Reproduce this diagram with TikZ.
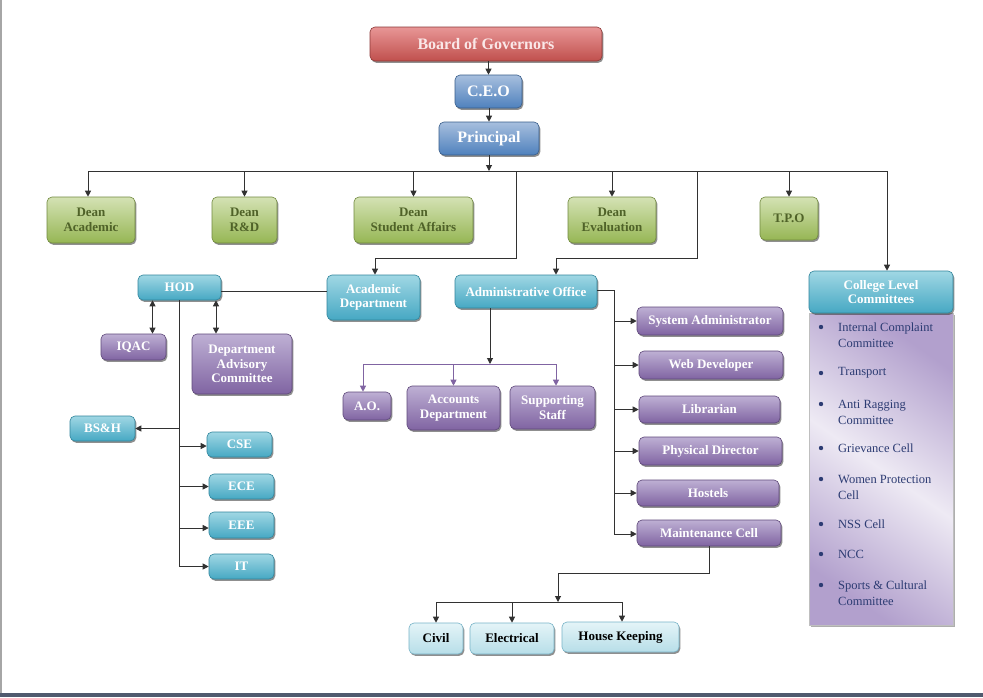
\documentclass[tikz,border=0pt]{standalone}
\usepackage{fontspec}
\setmainfont{Liberation Serif}
\usetikzlibrary{arrows.meta,shadows,calc}
\definecolor{redL}{RGB}{232,150,150}
\definecolor{redM}{RGB}{192,80,77}
\definecolor{redD}{RGB}{140,56,54}
\definecolor{bluL}{RGB}{167,191,222}
\definecolor{bluM}{RGB}{79,129,189}
\definecolor{bluD}{RGB}{56,93,138}
\definecolor{grnL}{RGB}{212,226,180}
\definecolor{grnM}{RGB}{150,182,84}
\definecolor{grnD}{RGB}{113,137,63}
\definecolor{grnT}{RGB}{79,98,40}
\definecolor{tealL}{RGB}{160,215,228}
\definecolor{tealM}{RGB}{70,168,195}
\definecolor{tealD}{RGB}{49,133,156}
\definecolor{purL}{RGB}{190,176,212}
\definecolor{purM}{RGB}{128,100,162}
\definecolor{purD}{RGB}{95,73,122}
\definecolor{cyL}{RGB}{228,244,248}
\definecolor{cyM}{RGB}{183,222,232}
\definecolor{cyD}{RGB}{120,180,200}
\definecolor{navy}{RGB}{45,60,115}
\definecolor{lineC}{RGB}{50,50,50}
\definecolor{bandC}{RGB}{80,90,110}
\begin{document}
\begin{tikzpicture}[x=1pt,y=-1pt,
  box/.style={draw, rounded corners=5pt, inner sep=1pt, align=center,
    font=\bfseries\fontsize{13}{14.5}\selectfont, line width=0.6pt,
    drop shadow={shadow xshift=1.3pt, shadow yshift=-1.8pt, opacity=.55, fill=black!80}},
  redbox/.style={box, draw=redD, top color=redL, bottom color=redM, text={rgb,255:red,250;green,232;blue,232}},
  bluebox/.style={box, draw=bluD, top color=bluL, bottom color=bluM, text=white},
  greenbox/.style={box, draw=grnD, top color=grnL, bottom color=grnM, text=grnT},
  tealbox/.style={box, draw=tealD, top color=tealL, bottom color=tealM, text=white},
  purbox/.style={box, draw=purD, top color=purL, bottom color=purM, text=white},
  cybox/.style={box, draw=cyD, top color=cyL, bottom color=cyM, text=black},
  conn/.style={draw=lineC, line width=1pt},
  pconn/.style={draw=purM, line width=1pt},
  arr/.style={-{Triangle[length=6pt,width=6pt]}},
  dbl/.style={{Triangle[length=6pt,width=6pt]}-{Triangle[length=6pt,width=6pt]}},
  item/.style={anchor=west, align=left, inner sep=0, text=navy, font=\fontsize{12.5}{16}\selectfont},
  bullet/.style={circle, fill=navy, inner sep=0, minimum size=4.4pt}
]
\useasboundingbox (0,0) rectangle (983,697);
\fill[white] (0,0) rectangle (983,697);
\fill[gray!70] (0,0) rectangle (1.5,697);
\fill[bandC] (0,693) rectangle (983,697);

% top chain
\node[redbox, minimum width=232, minimum height=34, font=\bfseries\fontsize{16}{18}\selectfont] (bog) at (486,44) {Board of Governors};
\node[bluebox, minimum width=67, minimum height=33, font=\bfseries\fontsize{16}{18}\selectfont] (ceo) at (488.5,91.5) {C.E.O};
\node[bluebox, minimum width=100, minimum height=33, font=\bfseries\fontsize{16}{18}\selectfont] (prin) at (489,138.5) {Principal};

% deans row
\node[greenbox, minimum width=88, minimum height=46] (deanA) at (91,220) {Dean\\Academic};
\node[greenbox, minimum width=65, minimum height=46] (deanR) at (244.5,220) {Dean\\R\&D};
\node[greenbox, minimum width=119, minimum height=46] (deanS) at (413.5,220) {Dean\\Student Affairs};
\node[greenbox, minimum width=88, minimum height=46] (deanE) at (612,220) {Dean\\Evaluation};
\node[greenbox, minimum width=58, minimum height=43] (tpo) at (789,218.5) {T.P.O};

% academic side
\node[tealbox, minimum width=93, minimum height=45] (acad) at (373.5,297.5) {Academic\\Department};
\node[tealbox, minimum width=83, minimum height=25] (hod) at (179.5,287.5) {HOD};
\node[purbox, minimum width=65, minimum height=26] (iqac) at (133.5,347) {IQAC};
\node[purbox, minimum width=100, minimum height=60] (dac) at (242,364) {Department\\Advisory\\Committee};
\node[tealbox, minimum width=65, minimum height=25] (bsh) at (102.5,428.5) {BS\&H};
\node[tealbox, minimum width=65, minimum height=25] (cse) at (239.5,444.5) {CSE};
\node[tealbox, minimum width=65, minimum height=25] (ece) at (241.5,486.5) {ECE};
\node[tealbox, minimum width=65, minimum height=26] (eee) at (241.5,525) {EEE};
\node[tealbox, minimum width=65, minimum height=25] (it) at (241.5,566.5) {IT};

% administrative side
\node[tealbox, minimum width=142, minimum height=33] (admin) at (526,291.5) {Administrative Office};
\node[purbox, minimum width=48, minimum height=28] (ao) at (367,406) {A.O.};
\node[purbox, minimum width=93, minimum height=44] (acc) at (453.5,408) {Accounts\\Department};
\node[purbox, minimum width=85, minimum height=43] (supp) at (552.5,407.5) {Supporting\\Staff};
\node[purbox, minimum width=146, minimum height=28] (sysad) at (710,321) {System Administrator};
\node[purbox, minimum width=144, minimum height=28] (web) at (711,365) {Web Developer};
\node[purbox, minimum width=141, minimum height=27] (lib) at (709.5,409.5) {Librarian};
\node[purbox, minimum width=143, minimum height=28] (phys) at (710.5,451) {Physical Director};
\node[purbox, minimum width=142, minimum height=26] (hostels) at (708,493) {Hostels};
\node[purbox, minimum width=144, minimum height=26] (maint) at (709,533) {Maintenance Cell};
\node[cybox, minimum width=54, minimum height=31] (civil) at (436,638.5) {Civil};
\node[cybox, minimum width=84, minimum height=31] (elec) at (512,638.5) {Electrical};
\node[cybox, minimum width=117, minimum height=30] (hk) at (620.5,637) {House Keeping};

% college level committees
\node[draw=gray!50, line width=0.5pt, minimum width=144, minimum height=312, inner sep=0,
  left color={rgb,255:red,178;green,160;blue,205}, right color={rgb,255:red,178;green,160;blue,205},
  middle color={rgb,255:red,238;green,234;blue,244}, shading angle=-35,
  drop shadow={shadow xshift=1.5pt, shadow yshift=-2pt, opacity=.45, fill=black!70}] (clcbody) at (881,469) {};
\node[tealbox, minimum width=144, minimum height=42] (clc) at (881,292) {College Level\\Committees};
\node[bullet] (b1) at (821,327) {};
\node[bullet] (b2) at (821,373) {};
\node[bullet] (b3) at (821,404) {};
\node[bullet] (b4) at (821,448) {};
\node[bullet] (b5) at (821,479) {};
\node[bullet] (b6) at (821,524) {};
\node[bullet] (b7) at (821,554) {};
\node[bullet] (b8) at (821,585) {};
\node[item] (i1) at (838,335) {Internal Complaint\\Committee};
\node[item] (i2) at (838,373) {Transport};
\node[item] (i3) at (838,412) {Anti Ragging\\Committee};
\node[item] (i4) at (838,448) {Grievance Cell};
\node[item] (i5) at (838,487) {Women Protection\\Cell};
\node[item] (i6) at (838,524) {NSS Cell};
\node[item] (i7) at (838,554) {NCC};
\node[item] (i8) at (838,593) {Sports \& Cultural\\Committee};

% connectors: top chain
\draw[conn,arr] (bog.south -| ceo.north) -- (ceo.north);
\draw[conn,arr] (ceo.south -| prin.north) -- (prin.north);
\coordinate (busL) at (88,171);
\coordinate (busR) at (887,171);
\coordinate (acJ) at (516,171);
\coordinate (adJ) at (697,171);
\draw[conn,arr] (prin.south) -- (prin.south |- busL);
\draw[conn] (busL) -- (busR);
\draw[conn,arr] (busL) -- (busL |- deanA.north);
\draw[conn,arr] (deanR.north |- busL) -- (deanR.north);
\draw[conn,arr] (deanS.north |- busL) -- (deanS.north);
\draw[conn,arr] (deanE.north |- busL) -- (deanE.north);
\draw[conn,arr] (tpo.north |- busL) -- (tpo.north);
\draw[conn,arr] (busR) -- (busR |- clc.north);
\draw[conn,arr] (acJ) -- ++(0,87) -| ([xshift=1.5]acad.north);
\draw[conn,arr] (adJ) -- ++(0,87) -| ([xshift=30]admin.north);

% academic branch
\draw[conn] ([yshift=-4]hod.east) -- ([yshift=-4]hod.east -| acad.west);
\draw[conn,dbl] ([xshift=-27]hod.south) -- ([xshift=-27]hod.south |- iqac.north);
\draw[conn,dbl] ([xshift=36.5]hod.south) -- ([xshift=36.5]hod.south |- dac.north);
\coordinate (hodEnd) at (179.5,567);
\draw[conn] (hod.south) -- (hodEnd);
\draw[conn,arr] (hod.south |- bsh.east) -- (bsh.east);
\draw[conn,arr] ([yshift=-1.5]hod.south |- cse.west) -- ([yshift=-1.5]cse.west);
\draw[conn,arr] (hod.south |- ece.west) -- (ece.west);
\draw[conn,arr] ([yshift=-3]hod.south |- eee.west) -- ([yshift=-3]eee.west);
\draw[conn,arr] (hod.south |- it.west) -- (it.west);

% administrative branch
\coordinate (admJ) at (490,364);
\draw[conn,arr] ([xshift=-36]admin.south) -- (admJ);
\draw[pconn] ([xshift=-4]ao.north |- admJ) -- ([xshift=3.5]supp.north |- admJ);
\draw[pconn,arr] ([xshift=-4]ao.north |- admJ) -- ([xshift=-4]ao.north);
\draw[pconn,arr] (acc.north |- admJ) -- (acc.north);
\draw[pconn,arr] ([xshift=3.5]supp.north |- admJ) -- ([xshift=3.5]supp.north);
\coordinate (rb) at (614,534);
\draw[conn] ([yshift=1.5]admin.east) -| (rb);
\draw[conn,arr] (rb |- sysad.west) -- (sysad.west);
\draw[conn,arr] (rb |- web.west) -- (web.west);
\draw[conn,arr] (rb |- lib.west) -- (lib.west);
\draw[conn,arr] (rb |- phys.west) -- (phys.west);
\draw[conn,arr] (rb |- hostels.west) -- (hostels.west);
\draw[conn,arr] (rb) -- (rb -| maint.west);
\coordinate (mJ) at (558,573);
\coordinate (bJ) at (558,602);
\draw[conn,arr] (maint.south) |- (mJ) -- (bJ);
\draw[conn] (civil.north |- bJ) -- ([xshift=1.5]hk.north |- bJ);
\draw[conn,arr] (civil.north |- bJ) -- (civil.north);
\draw[conn,arr] (elec.north |- bJ) -- (elec.north);
\draw[conn,arr] ([xshift=1.5]hk.north |- bJ) -- ([xshift=1.5]hk.north);
\end{tikzpicture}
\end{document}
